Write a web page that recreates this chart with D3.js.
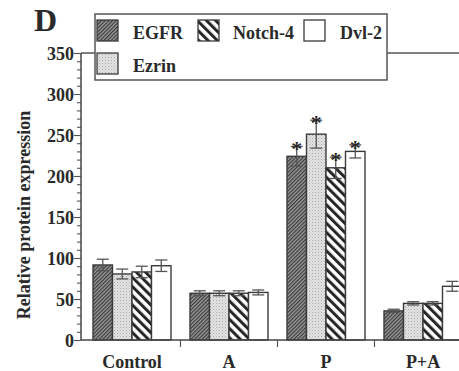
<!DOCTYPE html>
<html><head><meta charset="utf-8">
<script src="https://cdn.jsdelivr.net/npm/d3@7"></script>
<style>body{margin:0;background:#fff}svg{display:block}text{font-family:"Liberation Serif","Times New Roman",serif;font-weight:bold;fill:#2a2a2a}</style>
</head><body><svg id="c" width="459" height="371"></svg>
<script>
const groups = ["Control", "A", "P", "P+A"];
const series = ["EGFR", "Ezrin", "Notch-4", "Dvl-2"];
const egfr   = [91.5, 57, 224, 35.5];
const ezrin  = [80.5, 57, 251, 44.7];
const notch4 = [83, 57, 210, 44.7];
const dvl2   = [90.6, 58, 230, 65.5];
const egfrErr  = [7, 3, 12, 2];
const ezrinErr = [6, 3, 17, 2];
const notchErr = [7, 3, 13, 2];
const dvlErr   = [7, 3, 8, 6];
const starred  = [false, false, true, false];
const yTicks = [0, 50, 100, 150, 200, 250, 300, 350];
const values = [egfr, ezrin, notch4, dvl2];
const errs = [egfrErr, ezrinErr, notchErr, dvlErr];

const svg = d3.select("#c");
const defs = svg.append("defs");
const p1 = defs.append("pattern").attr("id","pEGFR").attr("patternUnits","userSpaceOnUse")
  .attr("width",2.6).attr("height",10).attr("patternTransform","rotate(45)");
p1.append("rect").attr("width",2.6).attr("height",10).attr("fill","#9a9a9a");
p1.append("rect").attr("width",1.2).attr("height",10).attr("fill","#3a3a3a");
const p2 = defs.append("pattern").attr("id","pEzrin").attr("patternUnits","userSpaceOnUse")
  .attr("width",3).attr("height",3);
p2.append("rect").attr("width",3).attr("height",3).attr("fill","#e4e4e4");
p2.append("rect").attr("width",1).attr("height",1).attr("fill","#a8a8a8");
p2.append("rect").attr("x",1.5).attr("y",1.5).attr("width",1).attr("height",1).attr("fill","#bcbcbc");
const p3 = defs.append("pattern").attr("id","pNotch").attr("patternUnits","userSpaceOnUse")
  .attr("width",6.5).attr("height",10).attr("patternTransform","rotate(-45)");
p3.append("rect").attr("width",6.5).attr("height",10).attr("fill","#ffffff");
p3.append("rect").attr("width",3).attr("height",10).attr("fill","#262626");
const fills = ["url(#pEGFR)", "url(#pEzrin)", "url(#pNotch)", "#ffffff"];

const y = d3.scaleLinear().domain([0, 350]).range([340, 53]);
const x = d3.scaleBand().domain(groups).range([83.5, 471.5]).paddingInner(0.196).paddingOuter(0.098);
const xs = d3.scaleBand().domain(series).range([0, x.bandwidth()]);

svg.append("line").attr("x1",81).attr("x2",459).attr("y1",y(350)).attr("y2",y(350))
  .attr("stroke","#555").attr("stroke-width",1.5);

series.forEach((s, si) => {
  groups.forEach((g, gi) => {
    const v = values[si][gi];
    svg.append("rect").attr("x", x(g) + xs(s)).attr("y", y(v))
      .attr("width", xs.bandwidth()).attr("height", y(0) - y(v))
      .attr("fill", fills[si]).attr("stroke", "#3a3a3a").attr("stroke-width", 1.4);
  });
});
series.forEach((s, si) => {
  groups.forEach((g, gi) => {
    const v = values[si][gi], e = errs[si][gi];
    const cx = x(g) + xs(s) + xs.bandwidth() / 2;
    const eg = svg.append("g").attr("stroke", "#555").attr("stroke-width", 1.3);
    eg.append("line").attr("x1",cx).attr("x2",cx).attr("y1",y(v+e)).attr("y2",y(v-e));
    eg.append("line").attr("x1",cx-6).attr("x2",cx+6).attr("y1",y(v+e)).attr("y2",y(v+e));
    eg.append("line").attr("x1",cx-6).attr("x2",cx+6).attr("y1",y(v-e)).attr("y2",y(v-e));
    if (starred[gi]) {
      svg.append("text").attr("x", cx).attr("y", y(v + e) + 10).attr("text-anchor","middle")
        .attr("font-size", 22).text("*");
    }
  });
});

const yAxis = d3.axisLeft(y).tickValues(d3.range(0, 351, 10)).tickSize(0).tickFormat("");
const ya = svg.append("g").attr("transform","translate(81,0)").call(yAxis);
ya.select(".domain").remove();
svg.append("line").attr("x1",81).attr("x2",81).attr("y1",y(0)).attr("y2",y(350)).attr("stroke","#444").attr("stroke-width",1.5);
ya.selectAll(".tick").each(function(d){
  const major = yTicks.includes(d);
  d3.select(this).append("line").attr("x1", major ? -7 : -4).attr("x2",0)
    .attr("stroke","#555").attr("stroke-width",1.1);
  if (major) d3.select(this).append("text").attr("x",-7).attr("dy","0.35em")
    .attr("text-anchor","end").attr("font-size",18).text(d);
});

svg.append("line").attr("x1",81).attr("x2",459).attr("y1",y(0)).attr("y2",y(0)).attr("stroke","#444").attr("stroke-width",1.5);
const xAxis = d3.axisBottom(x).tickSize(0).tickPadding(15);
const xa = svg.append("g").attr("transform",`translate(0,${y(0)})`).call(xAxis);
xa.select(".domain").remove();
xa.selectAll("text").attr("font-size",18).style("font-family",null);
groups.slice(0, -1).forEach(g => {
  const sx = x(g) + x.bandwidth() + x.step() * 0.098;
  svg.append("line").attr("x1",sx).attr("x2",sx).attr("y1",y(0)).attr("y2",y(0)+7)
    .attr("stroke","#555").attr("stroke-width",1.2);
});

svg.append("text").attr("transform","translate(30,215) rotate(-90)").attr("text-anchor","middle")
  .attr("font-size",18).text("Relative protein expression");

svg.append("text").attr("x",34).attr("y",31).attr("font-size",32).text("D");

svg.append("rect").attr("x",95).attr("y",14).attr("width",292).attr("height",66)
  .attr("fill","#fff").attr("stroke","#555").attr("stroke-width",1.5);
const legPos = [[97,20,133],[97,53,133],[198,20,233],[304,20,340]];
series.forEach((s, si) => {
  const [sx, sy, tx] = legPos[si];
  svg.append("rect").attr("x",sx).attr("y",sy).attr("width",21).attr("height",21)
    .attr("fill",fills[si]).attr("stroke","#3a3a3a").attr("stroke-width",1.3);
  svg.append("text").attr("x",tx).attr("y",sy+19).attr("font-size",18).text(s);
});
</script></body></html>
